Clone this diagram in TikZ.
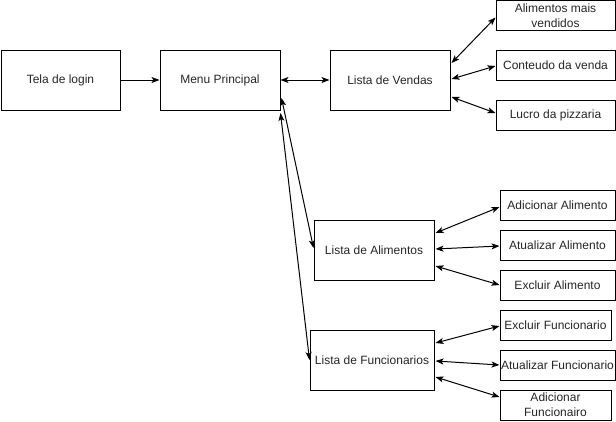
\documentclass[tikz,border=0pt]{standalone}
\usepackage{fontspec}
\setmainfont{Liberation Sans}
\usetikzlibrary{arrows.meta,calc}
\begin{document}
\begin{tikzpicture}[x=0.75pt,y=-0.75pt,
  box/.style={draw=black,line width=0.75pt,fill=white,inner sep=0pt,align=center,
    font=\fontsize{9pt}{11pt}\selectfont,text=black!85},
  big/.style={box,minimum height=45pt},
  small/.style={box,minimum height=22.5pt},
  conn/.style={line width=0.75pt,-{Stealth[length=6pt,width=4.5pt,inset=1.5pt]}},
  biconn/.style={line width=0.75pt,{Stealth[length=6pt,width=4.5pt,inset=1.5pt]}-{Stealth[length=6pt,width=4.5pt,inset=1.5pt]}}]
\useasboundingbox (0,0) rectangle (616,421);
% main boxes
\node[big,minimum width=89.25pt] (tela) at (60.5,80) {Tela de login};
\node[big,minimum width=90pt] (menu) at (220,80) {Menu Principal};
\node[big,minimum width=90pt] (vendas) at (390,80) {Lista de Vendas};
\node[big,minimum width=90pt] (alim) at (374,250) {Lista de Alimentos};
\node[big,minimum width=93pt] (func) at (372,360) {Lista de Funcionarios};
% vendas children
\node[small,minimum width=89.25pt,minimum height=22pt] (amv) at (555.5,15.5) {Alimentos mais\\vendidos};
\node[small,minimum width=89.25pt] (cont) at (555.5,65) {Conteudo da venda};
\node[small,minimum width=89.25pt] (lucro) at (555.5,115) {Lucro da pizzaria};
% alimentos children
\node[small,minimum width=86.25pt] (adic) at (557.5,205) {Adicionar Alimento};
\node[small,minimum width=86.25pt] (atua) at (557.5,245) {Atualizar Alimento};
\node[small,minimum width=86.25pt] (excl) at (557.5,285) {Excluir Alimento};
% funcionarios children
\node[small,minimum width=83.25pt] (exf) at (555.5,325) {Excluir Funcionario};
\node[small,minimum width=86.25pt] (atf) at (557.5,365) {Atualizar Funcionario};
\node[small,minimum width=83.25pt] (adf) at (555.5,405) {Adicionar\\Funcionairo};
% connectors
\draw[conn] (tela.east) -- (menu.west);
\draw[biconn] (menu.east) -- (vendas.west);
\draw[biconn] ($(menu.east)+(1,18)$) -- ($(alim.west)+(0,-2)$);
\draw[biconn] ($(menu.east)+(0,33)$) -- (func.west);
\draw[biconn] ($(vendas.east)+(1,-17)$) -- ($(amv.west)+(0,2)$);
\draw[biconn] ($(vendas.east)+(1,-1)$) -- ($(cont.west)+(0,1)$);
\draw[biconn] ($(vendas.east)+(1,17)$) -- ($(lucro.west)+(0,-2)$);
\draw[biconn] ($(alim.east)+(1,-17)$) -- ($(adic.west)+(0,2)$);
\draw[biconn] ($(alim.east)+(1,-1)$) -- ($(atua.west)+(0,1)$);
\draw[biconn] ($(alim.east)+(1,16)$) -- (excl.west);
\draw[biconn] ($(func.east)+(1,-17)$) -- ($(exf.west)+(0,1)$);
\draw[biconn] ($(func.east)+(1,1)$) -- ($(atf.west)+(0,0)$);
\draw[biconn] ($(func.east)+(1,17)$) -- ($(adf.west)+(0,-8)$);
\end{tikzpicture}
\end{document}
